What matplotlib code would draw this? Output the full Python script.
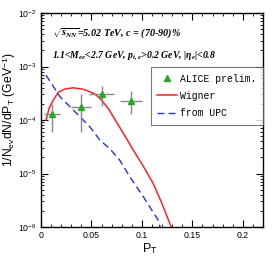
import numpy as np
import matplotlib
matplotlib.use("Agg")
import matplotlib.pyplot as plt
from matplotlib.ticker import MultipleLocator, LogLocator, NullFormatter

plt.rcParams["font.family"] = ["Liberation Sans", "DejaVu Sans"]
plt.rcParams["mathtext.fontset"] = "custom"
plt.rcParams["mathtext.rm"] = "Liberation Serif:italic:bold"
plt.rcParams["mathtext.it"] = "Liberation Serif:italic:bold"
plt.rcParams["mathtext.sf"] = "Liberation Sans"

# ALICE preliminary points
alice_pt = [0.011, 0.040, 0.060, 0.089]
alice_y = [1.3e-4, 1.78e-4, 3.0e-4, 2.3e-4]
alice_xerr = [0.008, 0.010, 0.012, 0.011]
alice_yerr_lo = [0.7e-4, 1.18e-4, 1.15e-4, 1.02e-4]
alice_yerr_hi = [0.7e-4, 1.28e-4, 1.4e-4, 1.2e-4]

# Wigner curve
wig_pt = [0.005, 0.008, 0.0122, 0.0171, 0.0238, 0.032, 0.042, 0.052, 0.057, 0.0617,
          0.067, 0.0716, 0.078, 0.085, 0.0914, 0.101, 0.111, 0.120, 0.129]
wig_y = [1.0e-4, 1.65e-4, 2.36e-4, 3.3e-4, 3.8e-4, 4.0e-4, 3.75e-4, 3.16e-4, 2.7e-4, 2.15e-4,
         1.6e-4, 1.15e-4, 7.3e-5, 4.4e-5, 2.75e-5, 1.4e-5, 6.6e-6, 2.7e-6, 1.0e-6]

# from UPC curve
upc_pt = [0.005, 0.0188, 0.0403, 0.0485, 0.0584, 0.0683, 0.0782, 0.088, 0.1013, 0.116, 0.118]
upc_y = [6.9e-4, 2.72e-4, 1.07e-4, 7.4e-5, 4.2e-5, 2.9e-5, 1.75e-5, 8.7e-6, 3.7e-6, 1.35e-6, 1.0e-6]

fig = plt.figure(figsize=(2.76, 2.67), dpi=100)
ax = fig.add_axes([0.1486, 0.1498, 0.8044, 0.8014])

h_alice = ax.errorbar(alice_pt, alice_y, xerr=alice_xerr, yerr=[alice_yerr_lo, alice_yerr_hi],
                      fmt="^", color="#22aa22", ms=3.8, ecolor="#888888", elinewidth=1.0,
                      capsize=0, label="ALICE prelim.", zorder=3)
h_wig, = ax.plot(wig_pt, wig_y, color="#ff2222", lw=1.1, label="Wigner")
h_upc, = ax.plot(upc_pt, upc_y, color="#2233dd", lw=1.0, dashes=(5, 3), label="from UPC")

ax.set_yscale("log")
ax.set_xlim(0, 0.22)
ax.set_ylim(1e-6, 1e-2)

ax.xaxis.set_minor_locator(MultipleLocator(0.01))
ax.set_xticks([0, 0.05, 0.1, 0.15, 0.2])
ax.set_xticklabels(["0", "0.05", "0.1", "0.15", "0.2"])
ax.yaxis.set_major_locator(LogLocator(base=10, numticks=10))
ax.yaxis.set_minor_locator(LogLocator(base=10, subs=np.arange(2, 10), numticks=20))
ax.yaxis.set_minor_formatter(NullFormatter())

ax.tick_params(which="both", direction="in", top=True, right=True, labelsize=6.3, pad=3)
ax.tick_params(which="major", length=5, width=0.8)
ax.tick_params(which="minor", length=2.5, width=0.6)
for s in ax.spines.values():
    s.set_linewidth(1.0)

ax.set_xlabel(r"P$_\mathsf{T}$", fontsize=9)
ax.xaxis.set_label_coords(0.49, -0.065)
ax.set_ylabel(r"1/N$_\mathsf{ev}$dN/dP$_\mathsf{T}$ (GeV$^\mathsf{-1}$)", fontsize=8.7)
ax.yaxis.set_label_coords(-0.105, 0.55)

ax.text(0.05, 0.893, r"$\sqrt{s_{NN}}$=5.02 TeV, c = (70-90)%", transform=ax.transAxes,
        fontsize=7.3, family="Liberation Serif", style="italic", weight="bold")
ax.text(0.05, 0.794, r"1.1<M$_{ee}$<2.7 GeV, p$_{t,e}$>0.2 GeV, |$\eta_e$|<0.8",
        transform=ax.transAxes, fontsize=7.0, family="Liberation Serif",
        style="italic", weight="bold")

leg = ax.legend([h_alice[0], h_wig, h_upc], ["ALICE prelim.", "Wigner", "from UPC"],
                loc="upper right", bbox_to_anchor=(1.0, 0.749),
                prop={"family": "Liberation Mono", "size": 7},
                frameon=True, fancybox=False, edgecolor="#555555",
                handlelength=2.0, borderpad=0.7, labelspacing=0.75, handletextpad=0.3,
                borderaxespad=0)
leg.get_frame().set_linewidth(0.8)

fig.savefig("out.png", dpi=100)
